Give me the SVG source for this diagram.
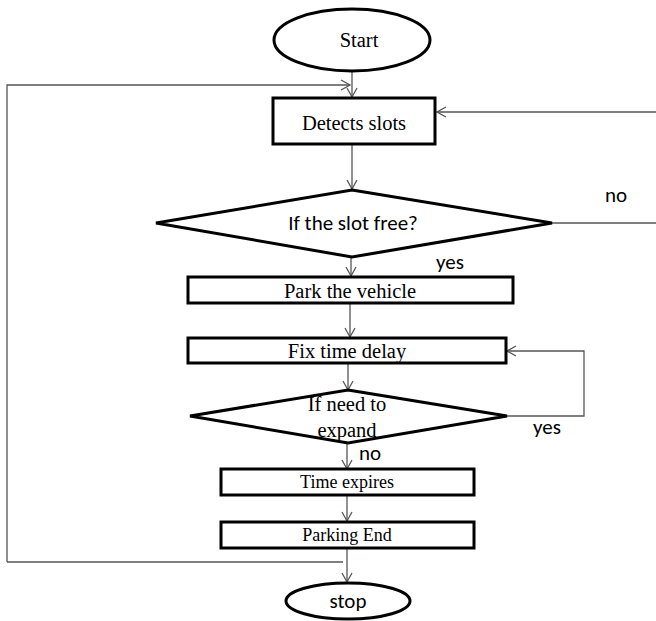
<svg xmlns="http://www.w3.org/2000/svg" width="656" height="621" viewBox="0 0 656 621">
<style>
.shape{fill:#fff;stroke:#000;stroke-width:3}
.conn{fill:none;stroke:#555;stroke-width:1.3}
.serif{font-family:"Liberation Serif","Times New Roman",serif;font-size:20.5px;fill:#000;text-anchor:middle}
.small{font-size:18px}
.sans{font-family:Carlito,"Liberation Sans",Arial,sans-serif;font-size:21px;fill:#000;text-anchor:middle}
</style>
<defs>
<marker id="arr" markerWidth="12" markerHeight="12" refX="10" refY="6" orient="auto" markerUnits="userSpaceOnUse">
<path d="M1,1 L10,6 L1,11" fill="none" stroke="#555" stroke-width="1.3"/>
</marker>
</defs>
<g id="connectors">
<line class="conn" x1="352" y1="72" x2="352" y2="97" marker-end="url(#arr)"/>
<polyline class="conn" points="7,562 7,85 350,85" marker-end="url(#arr)"/>
<line class="conn" x1="352" y1="145" x2="352" y2="189" marker-end="url(#arr)"/>
<polyline class="conn" points="552,223 656,223"/>
<polyline class="conn" points="656,112 437,112" marker-end="url(#arr)"/>
<line class="conn" x1="351" y1="258" x2="351" y2="276" marker-end="url(#arr)"/>
<line class="conn" x1="350" y1="303" x2="350" y2="337" marker-end="url(#arr)"/>
<line class="conn" x1="348" y1="363" x2="348" y2="390" marker-end="url(#arr)"/>
<polyline class="conn" points="507,416 584,416 584,351 507,351" marker-end="url(#arr)"/>
<line class="conn" x1="347" y1="443" x2="347" y2="469" marker-end="url(#arr)"/>
<line class="conn" x1="347" y1="495" x2="347" y2="521" marker-end="url(#arr)"/>
<line class="conn" x1="347" y1="548" x2="347" y2="582" marker-end="url(#arr)"/>
<line class="conn" x1="7" y1="562" x2="343" y2="562"/>
</g>
<g id="start">
<ellipse class="shape" cx="352" cy="40" rx="78" ry="31" stroke-width="2.5"/>
<text class="serif" x="359" y="47">Start</text>
</g>
<g id="detects">
<rect class="shape" x="273" y="98" width="162" height="46"/>
<text class="serif" x="354" y="130">Detects slots</text>
</g>
<g id="slotfree">
<polygon class="shape" points="352,190 552,223 352,257 156,223"/>
<text class="sans" x="353" y="230">If the slot free?</text>
</g>
<g id="park">
<rect class="shape" x="188" y="277" width="325" height="26"/>
<text class="serif" x="350" y="298">Park the vehicle</text>
</g>
<g id="fixdelay">
<rect class="shape" x="188" y="338" width="318" height="25"/>
<text class="serif" x="347" y="358">Fix time delay</text>
</g>
<g id="expand">
<polygon class="shape" points="348,390 507,416 348,443 190,416"/>
<text class="serif" x="347" y="411">If need to</text>
<text class="serif" x="347" y="437">expand</text>
</g>
<g id="timeexpires">
<rect class="shape" x="221" y="469" width="253" height="26"/>
<text class="serif small" x="347" y="488">Time expires</text>
</g>
<g id="parkingend">
<rect class="shape" x="221" y="522" width="253" height="26"/>
<text class="serif small" x="347" y="541">Parking End</text>
</g>
<g id="stop">
<ellipse class="shape" cx="348" cy="601" rx="62" ry="18" stroke-width="2.5"/>
<text class="sans" x="348" y="608">stop</text>
</g>
<g id="labels">
<text class="sans" x="616" y="202">no</text>
<text class="sans" x="450" y="269">yes</text>
<text class="sans" x="547" y="434">yes</text>
<text class="sans" x="370" y="460">no</text>
</g>
</svg>
